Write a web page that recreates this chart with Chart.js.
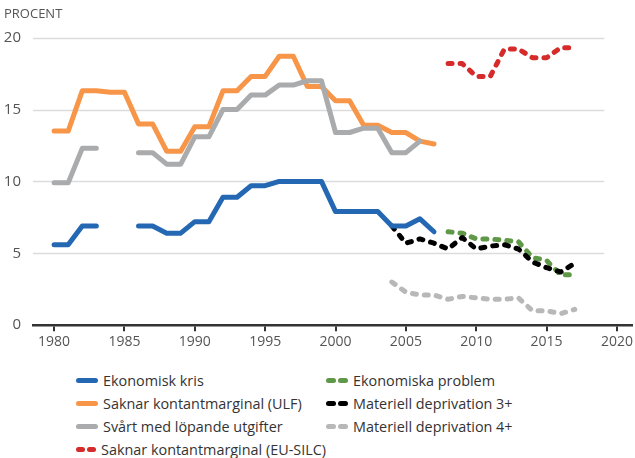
<!DOCTYPE html>
<html>
<head>
<meta charset="utf-8">
<script src="https://cdn.jsdelivr.net/npm/chart.js@4"></script>
<style>
  body { margin: 0; background: #fff; font-family: "Open Sans", sans-serif; }
  #wrap { position: relative; width: 635px; height: 458px; }
  #chart { position: absolute; left: 0; top: 0; }
  #legend { position: absolute; left: 76px; top: 369px; display: grid;
    grid-template-columns: 250px 250px; grid-auto-flow: column; grid-template-rows: repeat(4, 23px);
    font-size: 14.4px; color: #333; }
  .item { display: flex; align-items: center; white-space: nowrap; }
  .swatch { width: 22px; height: 5px; margin-right: 5px; display: flex; gap: 2px; }
  .swatch span { flex: 1; border-radius: 3px; }
</style>
</head>
<body>
<div id="wrap">
  <canvas id="chart" width="635" height="352"></canvas>
  <div id="legend"></div>
</div>
<script>
'use strict';

let canvasElem = document.getElementById('chart');

// years shown on the x axis
const years = [1980, 1981, 1982, 1983, 1984, 1985, 1986, 1987, 1988, 1989,
  1990, 1991, 1992, 1993, 1994, 1995, 1996, 1997, 1998, 1999,
  2000, 2001, 2002, 2003, 2004, 2005, 2006, 2007, 2008, 2009,
  2010, 2011, 2012, 2013, 2014, 2015, 2016, 2017];

const yTicks = [0, 5, 10, 15, 20];
const xTicks = [1980, 1985, 1990, 1995, 2000, 2005, 2010, 2015, 2020];

// percent values, one per year (null = no data)
const ekonomiskKris = [5.6, 5.6, 6.9, 6.9, null, null, 6.9, 6.9, 6.4, 6.4,
  7.2, 7.2, 8.9, 8.9, 9.7, 9.7, 10, 10, 10, 10,
  7.9, 7.9, 7.9, 7.9, 6.9, 6.9, 7.4, 6.5, null, null,
  null, null, null, null, null, null, null, null];
const kontantmarginalUlf = [13.5, 13.5, 16.3, 16.3, 16.2, 16.2, 14.0, 14.0, 12.1, 12.1,
  13.8, 13.8, 16.3, 16.3, 17.3, 17.3, 18.7, 18.7, 16.6, 16.6,
  15.6, 15.6, 13.9, 13.9, 13.4, 13.4, 12.8, 12.6, null, null,
  null, null, null, null, null, null, null, null];
const lopandeUtgifter = [9.9, 9.9, 12.3, 12.3, null, null, 12.0, 12.0, 11.2, 11.2,
  13.1, 13.1, 15.0, 15.0, 16.0, 16.0, 16.7, 16.7, 17.0, 17.0,
  13.4, 13.4, 13.7, 13.7, 12.0, 12.0, 12.8, null, null, null,
  null, null, null, null, null, null, null, null];
const kontantmarginalSilc = [null, null, null, null, null, null, null, null, null, null,
  null, null, null, null, null, null, null, null, null, null,
  null, null, null, null, null, null, null, null, 18.2, 18.2,
  17.3, 17.3, 19.2, 19.2, 18.6, 18.6, 19.3, 19.3];
const ekonomiskaProblem = [null, null, null, null, null, null, null, null, null, null,
  null, null, null, null, null, null, null, null, null, null,
  null, null, null, null, null, null, null, null, 6.5, 6.4,
  6.0, 6.0, 5.9, 5.8, 4.7, 4.5, 3.5, 3.5];
const deprivation3 = [null, null, null, null, null, null, null, null, null, null,
  null, null, null, null, null, null, null, null, null, null,
  null, null, null, null, 6.9, 5.7, 6.0, 5.7, 5.3, 6.1,
  5.3, 5.5, 5.6, 5.3, 4.4, 4.0, 3.7, 4.3];
const deprivation4 = [null, null, null, null, null, null, null, null, null, null,
  null, null, null, null, null, null, null, null, null, null,
  null, null, null, null, 3.0, 2.3, 2.1, 2.1, 1.8, 2.0,
  1.9, 1.8, 1.8, 1.9, 1.0, 1.0, 0.8, 1.1];

function points(values) {
  let out = [];
  for (let i = 0; i < years.length; i++) {
    out.push({ x: years[i], y: values[i] });
  }
  return out;
}

function series(label, values, color, dashed, order) {
  return {
    label: label,
    data: points(values),
    borderColor: color,
    backgroundColor: color,
    borderWidth: 5,
    borderDash: dashed ? [4, 8] : [],
    borderCapStyle: 'round',
    borderJoinStyle: 'round',
    pointRadius: 0,
    tension: 0,
    spanGaps: false,
    dashed: dashed,
    order: order
  };
}

// y gridlines stop a little short of the right end of the axis
const gridPlugin = {
  id: 'shortGrid',
  beforeDatasetsDraw(chart) {
    let ctx = chart.ctx;
    let x = chart.scales.x;
    let y = chart.scales.y;
    ctx.save();
    ctx.strokeStyle = '#dcdcdc';
    ctx.lineWidth = 1.5;
    for (let i = 1; i < yTicks.length; i++) {
      let py = Math.round(y.getPixelForValue(yTicks[i])) + 0.5;
      ctx.beginPath();
      ctx.moveTo(chart.chartArea.left, py);
      ctx.lineTo(x.getPixelForValue(2019.1), py);
      ctx.stroke();
    }
    ctx.restore();
  }
};

function renderChart() {
  let chartObj = {
    type: 'line',
    data: {
      datasets: [
        series('Ekonomisk kris', ekonomiskKris, '#2468b4', false, 1),
        series('Saknar kontantmarginal (ULF)', kontantmarginalUlf, '#f79548', false, 3),
        series('Svårt med löpande utgifter', lopandeUtgifter, '#a9abac', false, 2),
        series('Saknar kontantmarginal (EU-SILC)', kontantmarginalSilc, '#d52b2a', true, 4),
        series('Ekonomiska problem', ekonomiskaProblem, '#5f9846', true, 6),
        series('Materiell deprivation 3+', deprivation3, '#000000', true, 5),
        series('Materiell deprivation 4+', deprivation4, '#b8b8b8', true, 7)
      ]
    },
    options: {
      responsive: false,
      animation: false,
      layout: { padding: { left: 4, right: 2, top: 0, bottom: 0 } },
      plugins: {
        legend: { display: false },
        tooltip: { enabled: false },
        title: {
          display: true,
          text: 'PROCENT',
          align: 'start',
          color: '#555',
          font: { family: 'Open Sans', size: 13, weight: 'normal' },
          padding: { top: 6, bottom: 16 }
        }
      },
      scales: {
        x: {
          type: 'linear',
          min: 1978.5,
          max: 2021.1,
          afterBuildTicks: (axis) => { axis.ticks = xTicks.map(v => ({ value: v })); },
          ticks: {
            color: '#555',
            font: { family: 'Open Sans', size: 14 },
            padding: 2,
            maxRotation: 0,
            callback: (v) => String(v)
          },
          grid: { drawOnChartArea: false, color: '#333', lineWidth: 2, tickLength: 6 },
          border: { color: '#333', width: 2.5 }
        },
        y: {
          min: 0,
          max: 20,
          afterBuildTicks: (axis) => { axis.ticks = yTicks.map(v => ({ value: v })); },
          afterFit: (axis) => { axis.width = 29; },
          ticks: {
            color: '#555',
            font: { family: 'Open Sans', size: 15 },
            padding: 4
          },
          grid: { display: false },
          border: { display: false }
        }
      }
    },
    plugins: [gridPlugin]
  };
  let chart = new Chart(canvasElem, chartObj);

  // legend in two columns, built from the datasets
  let legend = document.getElementById('legend');
  chart.data.datasets.forEach(ds => {
    let item = document.createElement('div');
    item.className = 'item';
    let sw = document.createElement('div');
    sw.className = 'swatch';
    let parts = ds.dashed ? 2 : 1;
    for (let i = 0; i < parts; i++) {
      let s = document.createElement('span');
      s.style.background = ds.borderColor;
      sw.appendChild(s);
    }
    item.appendChild(sw);
    item.appendChild(document.createTextNode(ds.label));
    legend.appendChild(item);
  });
}

renderChart();
</script>
</body>
</html>
